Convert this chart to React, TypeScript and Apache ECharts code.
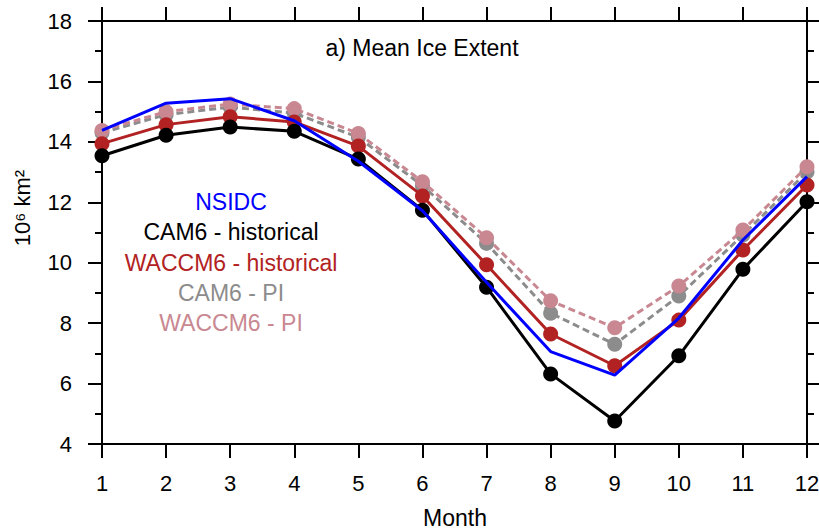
import React, { useEffect, useRef } from "react";
import * as echarts from "echarts";

const months = ["1", "2", "3", "4", "5", "6", "7", "8", "9", "10", "11", "12"];
const yMin = 4;
const yMax = 18;
const yStep = 2;

const nsidc = [14.38, 15.28, 15.43, 14.7, 13.36, 11.72, 9.35, 7.06, 6.28, 8.17, 10.75, 12.85];
const cam6Hist = [13.54, 14.22, 14.49, 14.35, 13.43, 11.74, 9.19, 6.32, 4.76, 6.92, 9.78, 12.02];
const waccm6Hist = [13.94, 14.57, 14.83, 14.66, 13.86, 12.21, 9.93, 7.64, 6.59, 8.1, 10.42, 12.57];
const cam6PI = [14.3, 14.9, 15.15, 14.95, 14.15, 12.55, 10.64, 8.33, 7.3, 8.9, 10.92, 13.0];
const waccm6PI = [14.38, 15.0, 15.25, 15.1, 14.28, 12.68, 10.83, 8.74, 7.85, 9.23, 11.08, 13.18];

const legendNames = ["NSIDC", "CAM6 - historical", "WACCM6 - historical", "CAM6 - PI", "WACCM6 - PI"];
const legendColors = ["#0000ff", "#000000", "#b22222", "#8c8c8c", "#c98891"];

const FONT = "'Liberation Sans', Arial, Helvetica, sans-serif";

export default function App() {
  const ref = useRef<HTMLDivElement>(null);
  useEffect(() => {
    if (!ref.current) return;
    const chart = echarts.init(ref.current, undefined, { renderer: "svg" });
    const axisLine = { show: true, lineStyle: { color: "#000", width: 2 } };
    const axisTick = { show: true, inside: false, length: 14, lineStyle: { color: "#000", width: 2 } };
    const minorTick = { show: true, splitNumber: 2, length: 7, lineStyle: { color: "#000", width: 2 } };
    const lineSeries = (name: string, data: number[], color: string, dashed: boolean, showSymbol: boolean, z: number) => ({
      name,
      type: "line",
      xAxisIndex: 0,
      yAxisIndex: 0,
      data,
      z,
      symbol: "circle",
      symbolSize: 15,
      showSymbol,
      itemStyle: { color },
      lineStyle: { color, width: 3, type: dashed ? [7, 4] : "solid" },
    });
    chart.setOption({
      animation: false,
      backgroundColor: "#ffffff",
      grid: { left: 102, right: 12, top: 21, bottom: 86, containLabel: false, outerBoundsMode: "none" },
      xAxis: [
        {
          type: "category",
          data: months,
          boundaryGap: false,
          position: "bottom",
          axisLine,
          axisTick: { ...axisTick, interval: 0 },
          axisLabel: { show: true, interval: 0, margin: 28, fontSize: 22, color: "#000", fontFamily: FONT },
          splitLine: { show: false },
        },
        {
          type: "category",
          data: months,
          boundaryGap: false,
          position: "top",
          axisLine,
          axisTick: { ...axisTick, interval: 0 },
          axisLabel: { show: false },
          splitLine: { show: false },
        },
      ],
      yAxis: [
        {
          type: "value",
          min: yMin,
          max: yMax,
          interval: yStep,
          position: "left",
          axisLine,
          axisTick,
          minorTick,
          axisLabel: { margin: 30, fontSize: 22, color: "#000", fontFamily: FONT },
          splitLine: { show: false },
          minorSplitLine: { show: false },
        },
        {
          type: "value",
          min: yMin,
          max: yMax,
          interval: yStep,
          position: "right",
          axisLine,
          axisTick,
          minorTick,
          axisLabel: { show: false },
          splitLine: { show: false },
          minorSplitLine: { show: false },
        },
      ],
      series: [
        lineSeries("CAM6 - PI", cam6PI, "#8c8c8c", true, true, 2),
        lineSeries("WACCM6 - PI", waccm6PI, "#c98891", true, true, 3),
        lineSeries("WACCM6 - historical", waccm6Hist, "#b22222", false, true, 4),
        lineSeries("CAM6 - historical", cam6Hist, "#000000", false, true, 5),
        lineSeries("NSIDC", nsidc, "#0000ff", false, false, 6),
      ],
      graphic: [
        {
          type: "text",
          x: 422,
          y: 48,
          style: { text: "a) Mean Ice Extent", fontSize: 23, fill: "#000", fontFamily: FONT, align: "center", verticalAlign: "middle" },
        },
        {
          type: "text",
          x: 455,
          y: 518,
          style: { text: "Month", fontSize: 23, fill: "#000", fontFamily: FONT, align: "center", verticalAlign: "middle" },
        },
        {
          type: "text",
          x: 22,
          y: 208,
          rotation: Math.PI / 2,
          style: { text: "10⁶ km²", fontSize: 22, fill: "#000", fontFamily: FONT, align: "center", verticalAlign: "middle" },
        },
        ...legendNames.map((name, i) => ({
          type: "text",
          x: 231,
          y: 202 + i * 30.3,
          style: { text: name, fontSize: 23, fill: legendColors[i], fontFamily: FONT, align: "center", verticalAlign: "middle" },
        })),
      ],
    });
    return () => chart.dispose();
  }, []);
  return <div ref={ref} style={{ position: "fixed", left: 0, top: 0, width: 819, height: 530 }} />;
}
